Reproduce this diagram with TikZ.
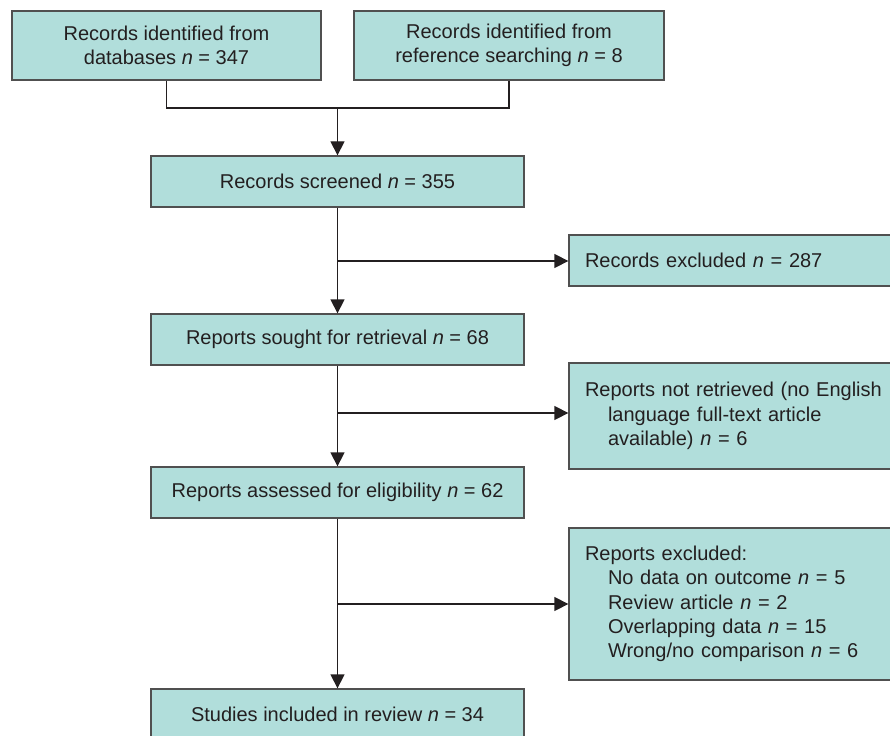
\documentclass[tikz,border=0pt]{standalone}
\usepackage{fontspec}
\setmainfont{Liberation Sans}
\usetikzlibrary{arrows.meta}
\definecolor{boxfill}{RGB}{177,222,219}
\definecolor{boxline}{RGB}{80,80,80}
\definecolor{txt}{RGB}{35,31,32}
\begin{document}
\begin{tikzpicture}[x=1pt,y=-1pt,
  box/.style={draw=boxline, line width=1.3pt, fill=boxfill, text=txt,
    font=\fontsize{20}{24.4}\selectfont, inner sep=0pt, align=center},
  sidebox/.style={box, minimum width=337pt, text width=305pt, align=left},
  conn/.style={draw=txt, line width=1.3pt},
  arr/.style={conn, -{Triangle[length=14pt,width=14pt]}}]
\useasboundingbox (0,0) rectangle (890,735);
\clip (0,0) rectangle (890,735);
% main column
\node[box, minimum width=309pt, minimum height=69pt] (b1) at (166.5,45.5)
  {Records identified from\\databases \textit{n} = 347};
\node[box, minimum width=310pt, minimum height=69pt] (b2) at (509,45.5)
  {Records identified from\\reference searching \textit{n} = 8};
\node[box, minimum width=373pt, minimum height=51pt] (scr) at (337.5,181.5)
  {Records screened \textit{n} = 355};
\node[box, minimum width=373pt, minimum height=51pt] (sought) at (337.5,339.5)
  {Reports sought for retrieval \textit{n} = 68};
\node[box, minimum width=373pt, minimum height=51pt] (assess) at (337.5,492.5)
  {Reports assessed for eligibility \textit{n} = 62};
\node[box, minimum width=373pt, minimum height=51pt] (incl) at (337.5,714.5)
  {Studies included in review \textit{n} = 34};
% side boxes
\node[sidebox, minimum height=51pt] (ex1) at (737.5,260.5)
  {Records excluded \textit{n} = 287};
\node[sidebox, minimum height=106pt] (nr) at (737.5,416)
  {Reports not retrieved (no English\\\hspace*{23pt}language full-text article\\\hspace*{23pt}available) \textit{n} = 6};
\node[sidebox, minimum height=152pt] (ex2) at (737.5,604)
  {Reports excluded:\\\hspace*{23pt}No data on outcome \textit{n} = 5\\\hspace*{23pt}Review article \textit{n} = 2\\\hspace*{23pt}Overlapping data \textit{n} = 15\\\hspace*{23pt}Wrong/no comparison \textit{n} = 6};
% connectors
\coordinate (j) at (337.5,108);
\coordinate (s1) at (337.5,261);
\coordinate (s2) at (337.5,413);
\coordinate (s3) at (337.5,604);
\draw[conn] (b1.south) -- (b1.south |- j) -- (b2.south |- j) -- (b2.south);
\draw[arr] (j) -- (scr.north);
\draw[arr] (scr.south) -- (sought.north);
\draw[arr] (sought.south) -- (assess.north);
\draw[arr] (assess.south) -- (incl.north);
\draw[arr] (s1) -- (s1 -| ex1.west);
\draw[arr] (s2) -- (s2 -| nr.west);
\draw[arr] (s3) -- (s3 -| ex2.west);
\end{tikzpicture}
\end{document}
